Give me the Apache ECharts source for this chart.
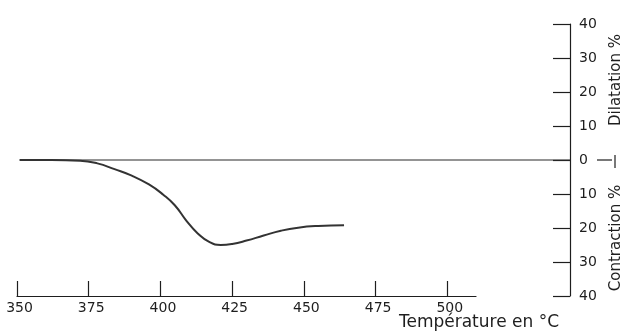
<!DOCTYPE html>
<html>
<head>
<meta charset="utf-8">
<script src="https://cdn.jsdelivr.net/npm/echarts@6/dist/echarts.min.js"></script>
<style>
html,body{margin:0;padding:0;background:#fff;}
#chart{width:622px;height:333px;}
</style>
</head>
<body>
<div id="chart"></div>
<script>
// Data
const temperatures = [351, 362, 372, 378, 384, 390, 396, 401, 405, 409, 413, 417, 421, 425, 430, 436, 442, 448, 455, 464];
const changePct   = [0, 0, -0.2, -1.0, -2.7, -4.6, -7.2, -10.2, -13.3, -17.8, -21.6, -24.1, -25.0, -24.7, -23.7, -22.2, -20.8, -19.9, -19.4, -19.2];
const xTicks = [350, 375, 400, 425, 450, 475, 500];
const yTicks = [-40, -30, -20, -10, 0, 10, 20, 30, 40];
const xAxisTitle = 'Température en °C';
const yNameTop = 'Dilatation %';
const yNameBottom = 'Contraction %';

const FONT = 'DejaVu Sans';
const INK = '#1e1e1e';

const chart = echarts.init(document.getElementById('chart'), null, {renderer: 'canvas'});
const xMaxFull = 350 + (570 - 17) / (459 / 160);

chart.setOption({
  animation: false,
  backgroundColor: '#fff',
  grid: [
    {left: 17, right: 52, top: 24, bottom: 37},
    {left: 17, right: 146, top: 24, bottom: 37}
  ],
  xAxis: [
    {gridIndex: 0, type: 'value', min: 350, max: xMaxFull, show: false},
    {gridIndex: 1, type: 'value', min: 350, max: 510, interval: 25,
     axisLine: {show: true, onZero: false, lineStyle: {color: INK, width: 1.2}},
     axisTick: {show: true, inside: true, length: 15, lineStyle: {color: INK, width: 1.2}, customValues: xTicks},
     axisLabel: {color: INK, fontFamily: FONT, fontSize: 14, margin: 5, customValues: xTicks,
                 padding: [0, 0, 0, 5],
                 formatter: v => (v > 500 ? '' : String(v))},
     splitLine: {show: false}}
  ],
  yAxis: [
    {gridIndex: 0, type: 'value', position: 'right', min: -40, max: 40, interval: 10,
     axisLine: {show: true, onZero: false, lineStyle: {color: INK, width: 1.2}},
     axisTick: {show: true, inside: true, length: 17, lineStyle: {color: INK, width: 1.2}, customValues: yTicks},
     axisLabel: {color: INK, fontFamily: FONT, fontSize: 14, margin: 9, customValues: yTicks,
                 formatter: v => String(Math.abs(v))},
     splitLine: {show: false}},
    {gridIndex: 1, type: 'value', min: -40, max: 40, show: false}
  ],
  series: [
    {type: 'line', xAxisIndex: 0, yAxisIndex: 0, symbol: 'none', silent: true,
     data: [[350.8, 0], [xMaxFull, 0]],
     lineStyle: {color: '#2a2a2a', width: 1.2}},
    {type: 'line', xAxisIndex: 1, yAxisIndex: 1, symbol: 'none', smooth: 0.5,
     data: temperatures.map((t, i) => [t, changePct[i]]),
     lineStyle: {color: '#333', width: 2}}
  ],
  graphic: [
    {type: 'line', shape: {x1: 597, y1: 160, x2: 612, y2: 160}, style: {stroke: INK, lineWidth: 1.2}},
    {type: 'line', shape: {x1: 615, y1: 155, x2: 615, y2: 168}, style: {stroke: INK, lineWidth: 1.2}},
    {type: 'text', x: 616, y: 80, rotation: Math.PI / 2,
     style: {text: yNameTop, fill: INK, font: '15px "' + FONT + '"', align: 'center', verticalAlign: 'middle'}},
    {type: 'text', x: 616, y: 238, rotation: Math.PI / 2,
     style: {text: yNameBottom, fill: INK, font: '15px "' + FONT + '"', align: 'center', verticalAlign: 'middle'}},
    {type: 'text', x: 479, y: 323,
     style: {text: xAxisTitle, fill: INK, font: '17px "' + FONT + '"', align: 'center', verticalAlign: 'middle'}}
  ]
});
</script>
</body>
</html>
